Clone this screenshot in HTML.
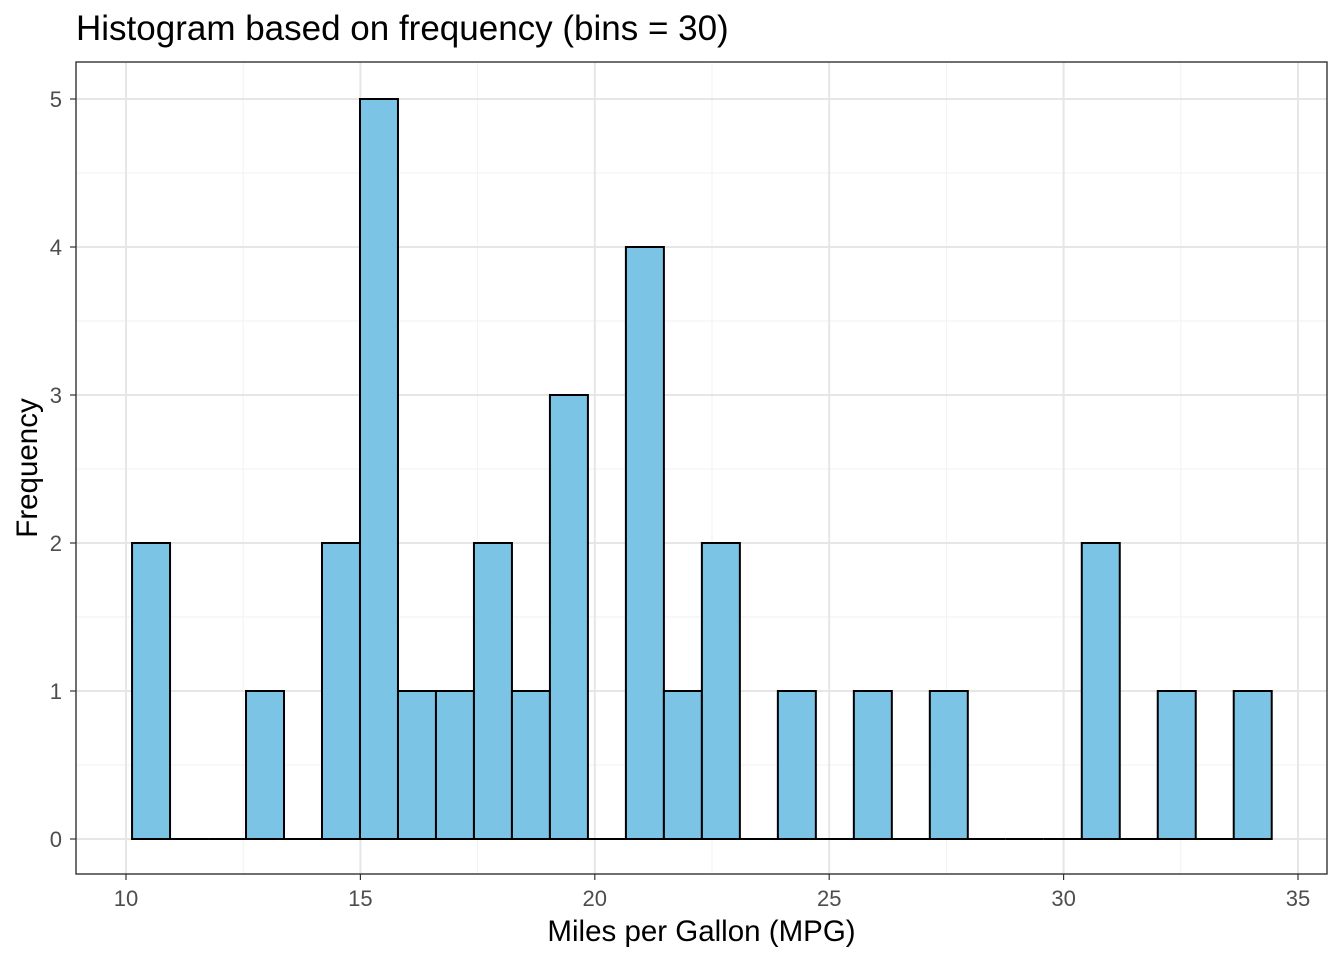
<!DOCTYPE html>
<html><head><meta charset="utf-8"><style>
body{margin:0;background:#fff;}
svg{display:block;font-family:"Liberation Sans",Arial,sans-serif;}
</style></head><body>
<svg id="chart" width="1344" height="960" viewBox="0 0 1344 960">
<rect width="1344" height="960" fill="#fff"/>
<text x="76" y="40" font-size="35" fill="#000">Histogram based on frequency (bins = 30)</text>
<g id="grid"></g>
<g id="bars"></g>
<rect x="76" y="62" width="1251" height="812" fill="none" stroke="#333" stroke-width="1.4"/>
<g id="axes"></g>
<text x="701.5" y="941" font-size="29.5" text-anchor="middle" fill="#000">Miles per Gallon (MPG)</text>
<text transform="translate(37,468) rotate(-90)" font-size="29.5" text-anchor="middle" fill="#000">Frequency</text>
</svg>
<script>
const counts=[2,0,0,1,0,2,5,1,1,2,1,3,0,4,1,2,0,1,0,1,0,1,0,0,0,2,0,1,0,1];
const binStart=10.129;
const binWidth=23.5/29;
const xTicks=[10,15,20,25,30,35];
const yTicks=[0,1,2,3,4,5];
const X=v=>126+(v-10)*46.88;
const Y=v=>839-v*148;
const NS="http://www.w3.org/2000/svg";
function mk(tag,attrs,parent){const e=document.createElementNS(NS,tag);for(const k in attrs)e.setAttribute(k,attrs[k]);document.getElementById(parent).appendChild(e);return e;}
for(let i=0;i<xTicks.length-1;i++){const v=(xTicks[i]+xTicks[i+1])/2;const l=mk('line',{x1:X(v),x2:X(v),y1:62,y2:874,stroke:'#f2f2f2','stroke-width':1},'grid');

}
for(let i=0;i<yTicks.length-1;i++){const v=(yTicks[i]+yTicks[i+1])/2;const l=mk('line',{x1:76,x2:1327,y1:Y(v),y2:Y(v),stroke:'#f2f2f2','stroke-width':1},'grid');

}
xTicks.forEach(v=>{const l=mk('line',{x1:X(v),x2:X(v),y1:62,y2:874,stroke:'#e6e6e6','stroke-width':2},'grid');


mk('line',{x1:X(v),x2:X(v),y1:874,y2:880,stroke:'#333','stroke-width':1.2},'axes');
const t=mk('text',{x:X(v),y:906,'font-size':22,'text-anchor':'middle',fill:'#4d4d4d'},'axes');t.textContent=v;

});
yTicks.forEach(v=>{const l=mk('line',{x1:76,x2:1327,y1:Y(v),y2:Y(v),stroke:'#e6e6e6','stroke-width':2},'grid');


mk('line',{x1:70,x2:76,y1:Y(v),y2:Y(v),stroke:'#333','stroke-width':1.2},'axes');
const t=mk('text',{x:62,y:Y(v)+8,'font-size':22,'text-anchor':'end',fill:'#4d4d4d'},'axes');t.textContent=v;

});
counts.forEach((c,i)=>{const x0=X(binStart+i*binWidth),x1=X(binStart+(i+1)*binWidth);
if(c>0){
const r=mk('rect',{x:x0,y:Y(c),width:x1-x0,height:Y(0)-Y(c),fill:'#7bc4e5',stroke:'#000','stroke-width':2},'bars');


}else{
const r=mk('line',{x1:x0,x2:x1,y1:Y(0),y2:Y(0),stroke:'#000','stroke-width':2},'bars');


}});
</script>
</body></html>
